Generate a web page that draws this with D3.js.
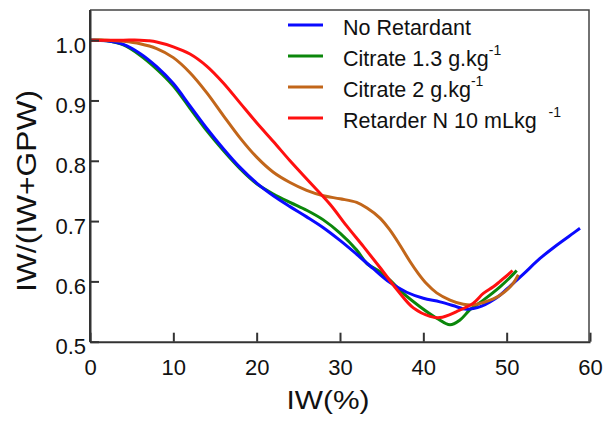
<!DOCTYPE html>
<html>
<head>
<meta charset="utf-8">
<script src="https://cdn.jsdelivr.net/npm/d3@7"></script>
<style>
  body { margin: 0; background: #fff; }
  text { font-family: Arial, "Liberation Sans", Helvetica, sans-serif; fill: #111; }
</style>
</head>
<body>
<script>
const width = 603;
const height = 422;

// No Retardant
const blueX = [0, 2, 4, 6, 8, 10, 12, 14, 16, 18, 20, 22, 24, 26, 28, 30, 32, 34, 36, 38, 40, 42, 44, 45, 46, 47, 48, 49, 50, 52, 54, 56, 58, 58.8];
const blueY = [1.0, 0.999, 0.993, 0.978, 0.956, 0.928, 0.891, 0.854, 0.820, 0.789, 0.763, 0.742, 0.724, 0.707, 0.689, 0.668, 0.645, 0.621, 0.598, 0.582, 0.572, 0.566, 0.558, 0.554, 0.555, 0.559, 0.566, 0.575, 0.587, 0.612, 0.638, 0.660, 0.680, 0.688];

// Citrate 1.3
const greenX = [0, 2, 4, 6, 8, 10, 12, 14, 16, 18, 20, 22, 24, 26, 28, 30, 32, 33.2, 34.8, 36, 37.6, 39.6, 41.6, 43.2, 44.4, 45.6, 47.2, 49.2, 50.8, 51.2];
const greenY = [1.0, 0.999, 0.992, 0.975, 0.952, 0.924, 0.887, 0.850, 0.817, 0.787, 0.762, 0.745, 0.731, 0.718, 0.702, 0.680, 0.652, 0.630, 0.616, 0.602, 0.580, 0.558, 0.539, 0.528, 0.536, 0.553, 0.569, 0.591, 0.612, 0.618];

// Citrate 2
const brownX = [0, 2, 4, 6, 8, 10, 12, 14, 16, 18, 20, 22, 24, 26, 28, 30, 32, 33.2, 34.8, 36, 37.2, 38.4, 39.4, 40.4, 41.6, 43.2, 44.8, 46, 47.2, 48.4, 49.2, 50.2, 50.8, 51.4];
const brownY = [1.0, 1.0, 0.998, 0.994, 0.986, 0.971, 0.946, 0.913, 0.875, 0.838, 0.806, 0.781, 0.764, 0.751, 0.742, 0.737, 0.731, 0.722, 0.705, 0.685, 0.660, 0.633, 0.613, 0.596, 0.581, 0.569, 0.562, 0.561, 0.565, 0.571, 0.577, 0.588, 0.597, 0.611];

// Retarder N
const redX = [0, 2, 4, 6, 7, 8, 10, 12, 14, 16, 18, 20, 22, 24, 26.4, 28.8, 30.8, 32.8, 34.8, 36.8, 38.8, 40.8, 42, 44, 46, 47.2, 48.4, 49.2, 50.4, 50.7];
const redY = [1.0, 1.0, 1.0, 1.0, 0.999, 0.997, 0.989, 0.977, 0.957, 0.929, 0.896, 0.863, 0.832, 0.800, 0.764, 0.728, 0.692, 0.658, 0.623, 0.587, 0.556, 0.542, 0.540, 0.550, 0.564, 0.580, 0.591, 0.600, 0.614, 0.618];

const xTicks = [0, 10, 20, 30, 40, 50, 60];
const yTicks = [0.5, 0.6, 0.7, 0.8, 0.9, 1.0];

const legendItems = [
  { name: "No Retardant", sup: "", gap: 0, color: "#0a0aff" },
  { name: "Citrate 1.3 g.kg", sup: "-1", gap: 0, color: "#0b870b" },
  { name: "Citrate 2 g.kg", sup: "-1", gap: 0, color: "#c2661a" },
  { name: "Retarder N 10 mLkg", sup: "-1", gap: 12, color: "#ff1010" }
];

const series = [
  { xs: greenX, ys: greenY, color: "#0b870b" },
  { xs: blueX, ys: blueY, color: "#0a0aff" },
  { xs: brownX, ys: brownY, color: "#c2661a" },
  { xs: redX, ys: redY, color: "#ff1010" }
];

const scale = {
  x: d3.scaleLinear().domain([0, 60]).range([90, 590]),
  y: d3.scaleLinear().domain([0.5, 1.05]).range([341.7, 10])
};

const svg = d3.select("body")
  .append("svg")
  .attr("width", width)
  .attr("height", height);

appendFrame(svg);
appendCurves(svg);
appendAxes(svg);
appendLabels(svg);
appendLegend(svg);

function appendFrame(svg) {
  // thin top and right border
  svg.append("path")
    .attr("d", `M${scale.x(0)},${scale.y(1.05)}H${scale.x(60) - 1}V${scale.y(0.5)}`)
    .attr("fill", "none")
    .attr("stroke", "#444")
    .attr("stroke-width", 1.5);
}

function appendCurves(svg) {
  const line = d3.line()
    .x(d => scale.x(d[0]))
    .y(d => scale.y(d[1]))
    .curve(d3.curveCatmullRom.alpha(0.5));

  series.forEach(s => {
    const pts = s.xs.map((x, i) => [x, s.ys[i]]);
    svg.append("path")
      .datum(pts)
      .attr("d", line)
      .attr("fill", "none")
      .attr("stroke", s.color)
      .attr("stroke-width", 3)
      .attr("stroke-linejoin", "round");
  });
}

function appendAxes(svg) {
  const xAxis = svg.append("g")
    .attr("transform", `translate(0,${scale.y(0.5)})`)
    .call(d3.axisBottom(scale.x)
      .tickValues(xTicks)
      .tickSizeInner(-9)
      .tickSizeOuter(0)
      .tickPadding(18)
      .tickFormat(d3.format("d")));

  const yAxis = svg.append("g")
    .attr("transform", `translate(${scale.x(0)},0)`)
    .call(d3.axisLeft(scale.y)
      .tickValues(yTicks)
      .tickSizeInner(-9)
      .tickSizeOuter(0)
      .tickPadding(4)
      .tickFormat(d3.format(".1f")));

  [xAxis, yAxis].forEach(g => {
    g.select(".domain").attr("stroke", "#333").attr("stroke-width", 2);
    g.selectAll(".tick line").attr("stroke", "#333").attr("stroke-width", 2);
    g.selectAll(".tick text")
      .style("font-family", "Arial, 'Liberation Sans', sans-serif")
      .style("font-size", "22px")
      .attr("fill", "#111");
  });

  // y axis extends up to the frame
  svg.append("line")
    .attr("x1", scale.x(0)).attr("x2", scale.x(0))
    .attr("y1", scale.y(1.05)).attr("y2", scale.y(0.5))
    .attr("stroke", "#333")
    .attr("stroke-width", 2);

  yAxis.selectAll(".tick text").attr("dy", "0.55em");
}

function appendLabels(svg) {
  // X label
  svg.append("text")
    .attr("x", 328)
    .attr("y", 409)
    .attr("text-anchor", "middle")
    .attr("textLength", 83)
    .attr("lengthAdjust", "spacingAndGlyphs")
    .style("font-size", "25px")
    .text("IW(%)");

  // Y label
  svg.append("text")
    .attr("text-anchor", "middle")
    .attr("transform", "translate(36,191)rotate(-90)")
    .attr("textLength", 202)
    .attr("lengthAdjust", "spacingAndGlyphs")
    .style("font-size", "27px")
    .text("IW/(IW+GPW)");
}

function appendLegend(svg) {
  const legend = svg.append("g")
    .attr("transform", "translate(288,25)");

  const items = legend.selectAll("g")
    .data(legendItems)
    .enter()
    .append("g")
    .attr("transform", (d, i) => `translate(0,${i * 31})`);

  items.append("line")
    .attr("x1", 0)
    .attr("x2", 35)
    .attr("stroke", d => d.color)
    .attr("stroke-width", 3);

  const txt = items.append("text")
    .attr("x", 55)
    .attr("y", 10)
    .style("font-size", "21.5px");

  txt.append("tspan").text(d => d.name);
  txt.append("tspan")
    .attr("dx", d => d.gap)
    .attr("dy", -11)
    .style("font-size", "14px")
    .text(d => d.sup);
}
</script>
</body>
</html>
